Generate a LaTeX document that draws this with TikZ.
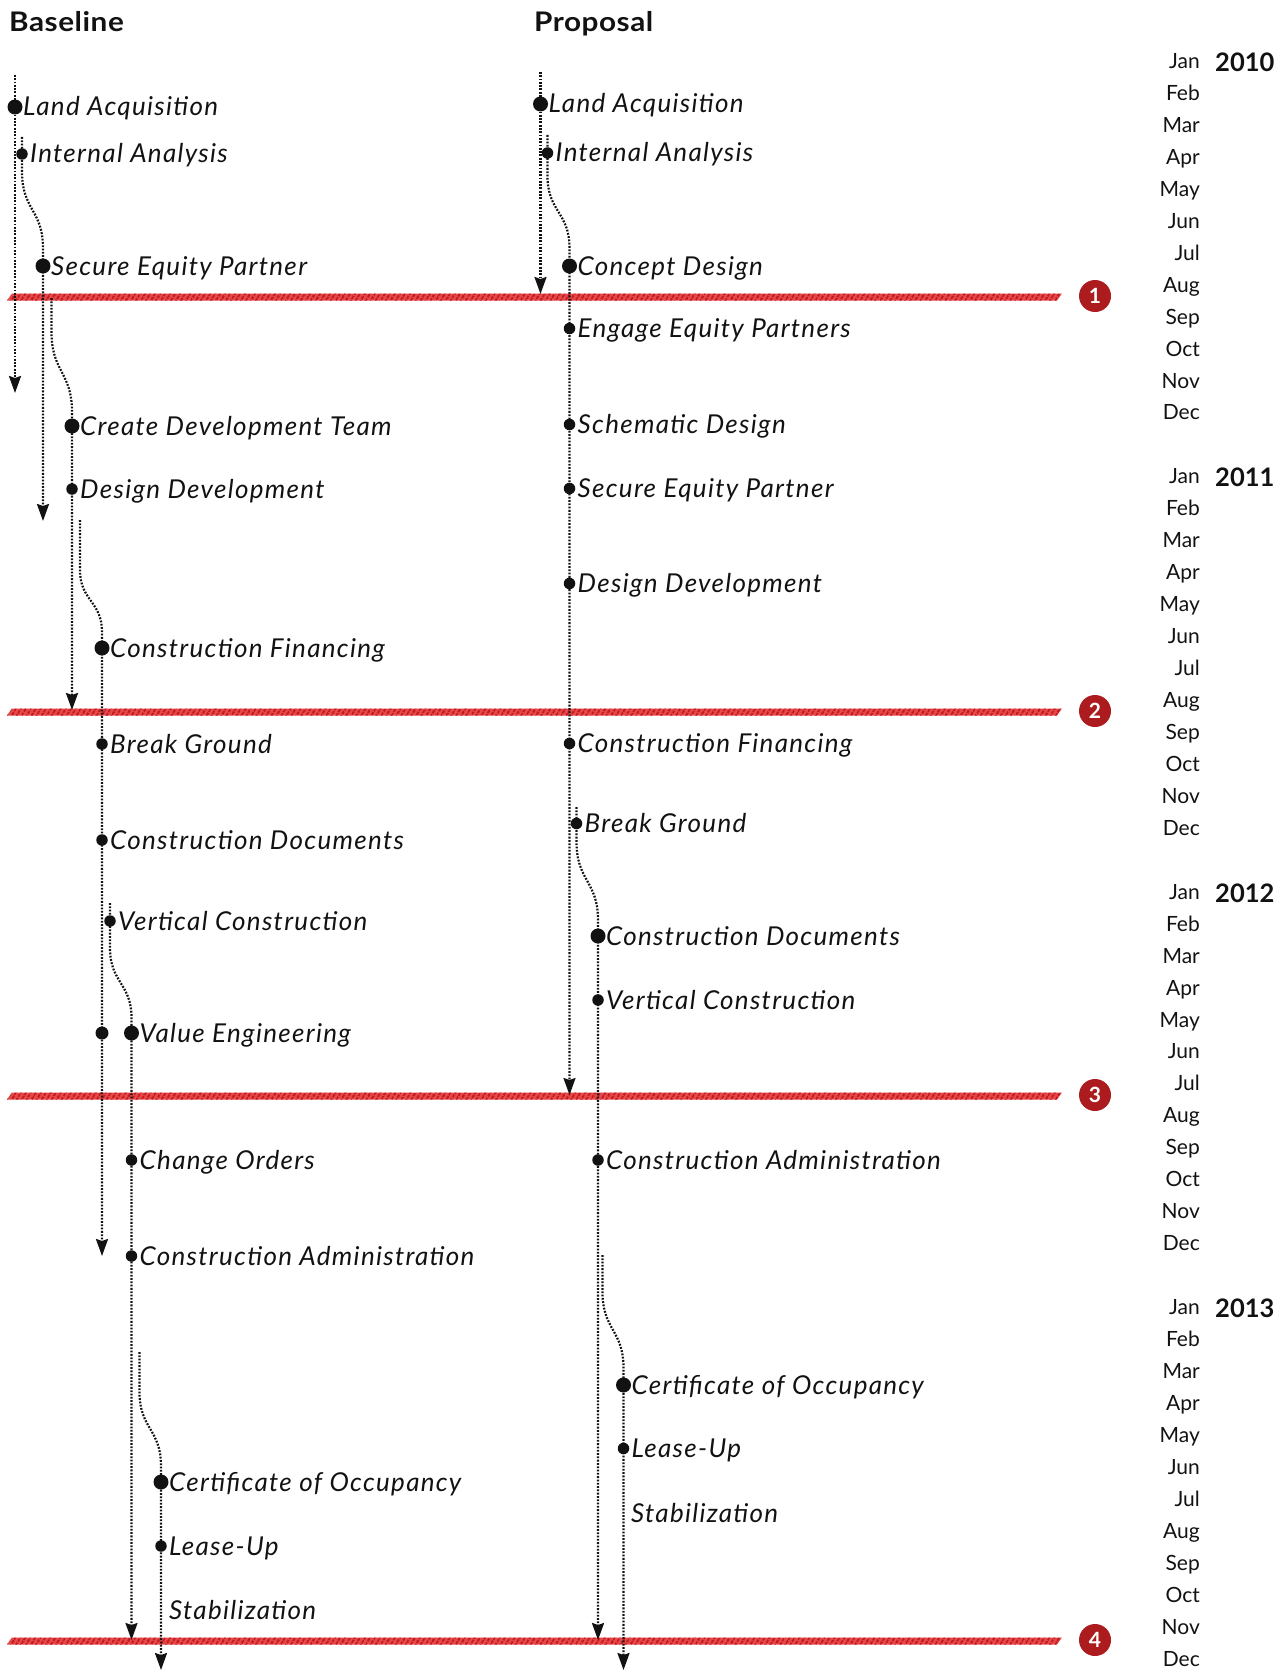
\documentclass[tikz,border=0pt]{standalone}
\usepackage{fontspec}
\setmainfont{Lato}
\newfontfamily\lblfont[LetterSpace=5]{Lato}
\newfontfamily\headfont[LetterSpace=2,FakeStretch=1.1]{Lato}
\usetikzlibrary{arrows.meta,patterns.meta}
\definecolor{hatchred}{RGB}{198,24,30}
\definecolor{hatchbg}{RGB}{228,72,72}
\definecolor{badgered}{RGB}{172,28,30}
\definecolor{ink}{RGB}{18,18,18}
\newcommand\evt[5]{\node[#4] (#1) at (#2,#3) {}; \node[lbl] (#1t) at ({#2+8},{#3+9}) {#5};}
\newcommand\redbar[2]{%
  \fill[hatchbg] (7,{#1+3.5}) -- (12,{#1-3.5}) -- (1062,{#1-3.5}) -- (1057,{#1+3.5}) -- cycle;
  \fill[pattern={Lines[angle=60,distance=4pt,line width=2.4pt]},pattern color=hatchred]
    (7,{#1+3.5}) -- (12,{#1-3.5}) -- (1062,{#1-3.5}) -- (1057,{#1+3.5}) -- cycle;
  \node[badge] (badge#2) at (1095,{#1-1}) {#2};}
\begin{document}
\begin{tikzpicture}[x=1pt,y=-1pt,
  dotline/.style={draw=ink,line width=2.2pt,dash pattern=on 1.8pt off 1.5pt},
  arr/.style={-{Stealth[length=17pt,width=12pt,inset=2pt]}},
  bigdot/.style={circle,fill=ink,inner sep=0pt,minimum size=15pt},
  middot/.style={circle,fill=ink,inner sep=0pt,minimum size=13pt},
  smalldot/.style={circle,fill=ink,inner sep=0pt,minimum size=11.5pt},
  lbl/.style={anchor=base west,inner sep=0pt,text=ink,font=\fontsize{26}{30}\lblfont\itshape},
  head/.style={anchor=base west,inner sep=0pt,text=ink,font=\fontsize{27}{30}\headfont\bfseries},
  month/.style={anchor=base east,inner sep=0pt,text=ink,font=\fontsize{21}{24}\selectfont},
  yearlbl/.style={anchor=base west,inner sep=0pt,text=ink,font=\fontsize{25.5}{30}\selectfont\bfseries},
  badge/.style={circle,fill=badgered,text=white,inner sep=0pt,minimum size=32pt,font=\fontsize{21}{21}\selectfont\bfseries}]
\useasboundingbox (0,0) rectangle (1284,1672);

% headings
\node[head] (hbase) at (9,32) {Baseline};
\node[head] (hprop) at (534,32) {Proposal};

% month scale
\foreach \yr [count=\k from 0] in {2010,2011,2012,2013} {
  \foreach \mo [count=\m from 0] in {Jan,Feb,Mar,Apr,May,Jun,Jul,Aug,Sep,Oct,Nov,Dec} {
    \node[month] (m\yr-\m) at (1200,{68.5+(13*\k+\m)*31.95}) {\mo};
  }
  \node[yearlbl] (y\yr) at (1215,{71.5+13*\k*31.95}) {\yr};
}

% milestone bars
\redbar{297}{1}
\redbar{712}{2}
\redbar{1096}{3}
\redbar{1641}{4}

% ---------- Baseline events
\evt{bLA}{15}{107}{bigdot}{Land Acquisition}
\evt{bIA}{22}{154}{smalldot}{Internal Analysis}
\evt{bSEP}{43}{266}{bigdot}{Secure Equity Partner}
\evt{bCDT}{72}{426}{bigdot}{Create Development Team}
\evt{bDD}{72}{489}{smalldot}{Design Development}
\evt{bCF}{102}{648}{bigdot}{Construction Financing}
\evt{bBG}{102}{744}{smalldot}{Break Ground}
\evt{bCDoc}{102}{840}{smalldot}{Construction Documents}
\evt{bVC}{110}{921}{smalldot}{Vertical Construction}
\node[middot] (bVEa) at (102,1033) {};
\evt{bVE}{131.5}{1033}{bigdot}{Value Engineering}
\evt{bCO}{131.5}{1160}{smalldot}{Change Orders}
\evt{bCA}{131.5}{1256}{smalldot}{Construction Administration}
\evt{bCOcc}{161}{1482}{bigdot}{Certificate of Occupancy}
\evt{bLU}{161}{1546}{smalldot}{Lease-Up}
\node[lbl] (bST) at (169,1619) {Stabilization};

% ---------- Proposal events
\evt{pLA}{540.5}{104}{bigdot}{Land Acquisition}
\evt{pIA}{547.5}{153}{smalldot}{Internal Analysis}
\evt{pCD}{569.5}{266}{bigdot}{Concept Design}
\evt{pEEP}{569.5}{328.5}{smalldot}{Engage Equity Partners}
\evt{pSD}{569.5}{424.5}{smalldot}{Schematic Design}
\evt{pSEP}{569.5}{488.5}{smalldot}{Secure Equity Partner}
\evt{pDD}{569.5}{583.5}{smalldot}{Design Development}
\evt{pCF}{569.5}{743.5}{smalldot}{Construction Financing}
\evt{pBG}{576.5}{823.5}{smalldot}{Break Ground}
\evt{pCDoc}{598}{936}{bigdot}{Construction Documents}
\evt{pVC}{598}{1000}{smalldot}{Vertical Construction}
\evt{pCA}{598}{1160}{smalldot}{Construction Administration}
\evt{pCOcc}{623.5}{1385}{bigdot}{Certificate of Occupancy}
\evt{pLU}{623.5}{1448.5}{smalldot}{Lease-Up}
\node[lbl] (pST) at (631,1522) {Stabilization};

% ---------- coordinates for connector ends and bends
\coordinate (bA0) at (15,75);     \coordinate (bA1) at (15,393);
\coordinate (bB0) at (22,137);    \coordinate (bB1) at (22,172);  \coordinate (bB2) at (43,248);  \coordinate (bB3) at (43,521);
\coordinate (bC0) at (51.5,298);  \coordinate (bC1) at (51.5,332); \coordinate (bC2) at (72,412); \coordinate (bC3) at (72,710);
\coordinate (bD0) at (80,520);    \coordinate (bD1) at (80,570);  \coordinate (bD2) at (102,632); \coordinate (bD3) at (102,1256);
\coordinate (bE0) at (110,903);   \coordinate (bE1) at (110,948); \coordinate (bE2) at (131.5,1018); \coordinate (bE3) at (131.5,1640);
\coordinate (bF0) at (139.5,1352); \coordinate (bF1) at (139.5,1392); \coordinate (bF2) at (161,1466); \coordinate (bF3) at (161,1670);
\coordinate (pA0) at (540.5,72);  \coordinate (pA1) at (540.5,294);
\coordinate (pB0) at (547.5,135); \coordinate (pB1) at (547.5,176); \coordinate (pB2) at (569.5,248); \coordinate (pB3) at (569.5,1095);
\coordinate (pC0) at (576.5,807); \coordinate (pC1) at (576.5,842); \coordinate (pC2) at (598,920); \coordinate (pC3) at (598,1640);
\coordinate (pD0) at (602.5,1255); \coordinate (pD1) at (602.5,1292); \coordinate (pD2) at (623.5,1368); \coordinate (pD3) at (623.5,1670);

% ---------- connectors
\draw[dotline,arr] (bA0) -- (bLA.center) -- (bA1);
\draw[dotline,arr] (bB0) -- (bIA.center) -- (bB1) .. controls +(0,38) and +(0,-38) .. (bB2) -- (bSEP.center) -- (bB3);
\draw[dotline,arr] (bC0) -- (bC1) .. controls +(0,40) and +(0,-40) .. (bC2) -- (bCDT.center) -- (bDD.center) -- (bC3);
\draw[dotline,arr] (bD0) -- (bD1) .. controls +(0,31) and +(0,-31) .. (bD2) -- (bCF.center) -- (bBG.center) -- (bCDoc.center) -- (bVEa.center) -- (bD3);
\draw[dotline,arr] (bE0) -- (bVC.center) -- (bE1) .. controls +(0,35) and +(0,-35) .. (bE2) -- (bVE.center) -- (bCO.center) -- (bCA.center) -- (bE3);
\draw[dotline,arr] (bF0) -- (bF1) .. controls +(0,37) and +(0,-37) .. (bF2) -- (bCOcc.center) -- (bLU.center) -- (bF3);
\draw[dotline,arr] (pA0) -- (pLA.center) -- (pA1);
\draw[dotline,arr] (pB0) -- (pIA.center) -- (pB1) .. controls +(0,36) and +(0,-36) .. (pB2) -- (pCD.center) -- (pEEP.center) -- (pSD.center) -- (pSEP.center) -- (pDD.center) -- (pCF.center) -- (pB3);
\draw[dotline,arr] (pC0) -- (pBG.center) -- (pC1) .. controls +(0,39) and +(0,-39) .. (pC2) -- (pCDoc.center) -- (pVC.center) -- (pCA.center) -- (pC3);
\draw[dotline,arr] (pD0) -- (pD1) .. controls +(0,38) and +(0,-38) .. (pD2) -- (pCOcc.center) -- (pLU.center) -- (pD3);
\end{tikzpicture}
\end{document}
